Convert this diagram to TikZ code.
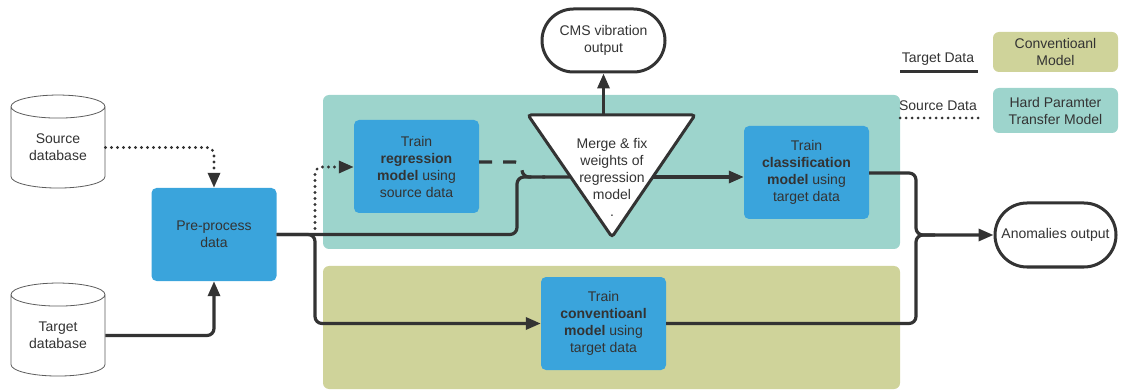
\documentclass[tikz,border=0pt]{standalone}
\usepackage{fontspec}
\setmainfont{Liberation Sans}
\usetikzlibrary{arrows.meta,shapes.geometric,shapes.misc}
\definecolor{ink}{HTML}{333333}
\definecolor{boxblue}{HTML}{3AA4DC}
\definecolor{teal}{HTML}{9DD4CC}
\definecolor{olive}{HTML}{CFD39A}
\begin{document}
\begin{tikzpicture}[x=1pt,y=-1pt,
  font=\fontsize{14}{17}\selectfont, text=ink,
  region/.style={fill=#1, rounded corners=6pt},
  task/.style={fill=boxblue, rounded corners=5pt, minimum width=125pt,
    minimum height=93pt, align=center, inner sep=2pt},
  db/.style={cylinder, shape border rotate=90, aspect=0.4, draw=ink!80,
    line width=0.8pt, fill=white, minimum width=94pt, minimum height=93pt,
    align=center, inner sep=0pt},
  term/.style={rounded rectangle, draw=ink, line width=3pt, fill=white,
    align=center, inner sep=2pt},
  legbox/.style={fill=#1, rounded corners=6pt, minimum width=125pt,
    align=center},
  flow/.style={draw=ink, line width=3.2pt, rounded corners=7pt},
  tip/.style={-{Triangle[length=15pt,width=12pt]}},
  dots/.style={line cap=round, dash pattern=on 0pt off 6pt},
]
\useasboundingbox (0,0) rectangle (1122,390);

% model regions
\fill[region=teal] (323,95) rectangle (900,249);
\fill[region=olive] (323,266) rectangle (900,389);

% data sources
\node[db] (src) at (58,147.5) {Source\\database};
\node[db] (tgt) at (58,335.5) {Target\\database};

% processing steps
\node[task] (pre) at (214,234.5) {Pre-process\\data};
\node[task] (reg) at (416.5,166.5) {Train\\\textbf{regression}\\\textbf{model} using\\source data};
\node[task] (cls) at (806.5,172.5) {Train\\\textbf{classification}\\\textbf{model} using\\target data};
\node[task] (conv) at (603.5,323.5) {Train\\\textbf{conventioanl}\\\textbf{model} using\\target data};

% merge step (inverted triangle)
\coordinate (mtl) at (528,115);
\coordinate (mtr) at (695,115);
\coordinate (mbot) at (612,237);
\coordinate (min) at (571,177);
\coordinate (mout) at (652,177);
\draw[draw=ink, line width=3pt, fill=white, rounded corners=3pt] (mtl) -- (mtr) -- (mbot) -- cycle;
\node[align=center] (merge) at (612,177) {Merge \& fix\\weights of\\regression\\model\\.};

% outputs
\node[term, minimum width=127pt, minimum height=63pt] (cms) at (603.5,40.5) {CMS vibration\\output};
\node[term, minimum width=125pt, minimum height=64pt] (anom) at (1055.5,235) {Anomalies output};

% legend
\node (legT) at (938,59) {Target Data};
\node (legS) at (938,106) {Source Data};
\draw[ink, line width=3pt] (900,72) -- (978,72);
\draw[ink, line width=3pt, dots] (900,118) -- (978,118);
\node[legbox=olive, minimum height=40pt] (legC) at (1055.5,52) {Conventioanl\\Model};
\node[legbox=teal, minimum height=45pt] (legH) at (1055.5,110.5) {Hard Paramter\\Transfer Model};

% junctions
\coordinate (split) at (315,234.5);
\coordinate (join) at (916,235);

% connectors
\draw[flow, dots, tip] (src.east) -| (pre.north);
\draw[flow, tip] (tgt.east) -| (pre.south);
\draw[flow] (pre.east) -- (517,234.5) -- (517,177) -- (min);
\draw[flow, dots, tip] (split) -- (315,167) -- (reg.west |- 0,167);
\draw[flow, dash pattern=on 13pt off 11pt] ([yshift=4.5pt]reg.east) -- (522,162) -- (522,177) -- (545,177);
\draw[flow, tip] (mout) -- (cls.west |- mout);
\draw[flow, tip] (cms.south |- mtl) -- (cms.south);
\draw[flow, tip] (pre.east) -- (split) -- (315,323.5) -- (conv.west);
\draw[flow, tip] ([yshift=-0.5pt]cls.east) -- (916,173) -- (join) -- (anom.west);
\draw[flow] (conv.east) -- (916,323.5) -- (join) -- (935,235);
\end{tikzpicture}
\end{document}
